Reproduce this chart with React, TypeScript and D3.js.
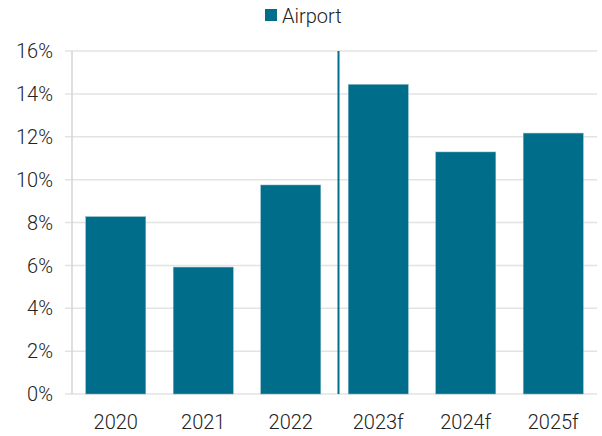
import React from "react";
import * as d3 from "d3";

const categories = ["2020", "2021", "2022", "2023f", "2024f", "2025f"];
const airportValues = [8.27, 5.92, 9.75, 14.44, 11.29, 12.17];
const yTicks = [0, 2, 4, 6, 8, 10, 12, 14, 16];
const seriesName = "Airport";
const dividerAfter = "2022";

const W = 602;
const H = 436;
const margin = { left: 72, right: 5, top: 51, bottom: 42 };
const color = "#006E8A";
const font = "Roboto, 'Noto Sans', sans-serif";

export default function App() {
  const x = d3
    .scaleBand<string>()
    .domain(categories)
    .range([margin.left, W - margin.right])
    .paddingInner(0.314)
    .paddingOuter(0.157);
  const y = d3.scaleLinear().domain([0, 16]).range([H - margin.bottom, margin.top]);
  const step = x.step();
  const divX = (x(dividerAfter) as number) + x.bandwidth() + (step - x.bandwidth()) / 2 + 4;

  return (
    <svg width={W} height={H} style={{ position: "absolute", left: 0, top: 0 }}>
      <rect x={0} y={0} width={W} height={H} fill="#fff" />
      {yTicks.map((t) => (
        <g key={t}>
          <line x1={margin.left - 7} x2={W - margin.right} y1={y(t)} y2={y(t)} stroke="#e3e3e3" strokeWidth={1.5} />
          <text x={53} y={y(t)} dy="0.36em" textAnchor="end" fontFamily={font} fontWeight={300} fontSize={20} fill="#222">
            {t}%
          </text>
        </g>
      ))}
      <line x1={margin.left} x2={margin.left} y1={y(16)} y2={y(0)} stroke="#d4d4d4" strokeWidth={1.5} />
      {categories.map((c, i) => (
        <g key={c}>
          <rect
            x={x(c)}
            y={y(airportValues[i])}
            width={x.bandwidth()}
            height={y(0) - y(airportValues[i])}
            fill={color}
            stroke="#7fb3c2"
            strokeWidth={0.5}
          />
          <text x={(x(c) as number) + x.bandwidth() / 2} y={429} textAnchor="middle" fontFamily={font} fontWeight={300} fontSize={20} fill="#222">
            {c}
          </text>
        </g>
      ))}
      <line x1={divX} x2={divX} y1={y(16)} y2={y(0)} stroke={color} strokeWidth={2} />
      <rect x={265} y={9} width={12} height={12} fill={color} />
      <text x={282} y={23} fontFamily={font} fontWeight={300} fontSize={20} fill="#222">
        {seriesName}
      </text>
    </svg>
  );
}
